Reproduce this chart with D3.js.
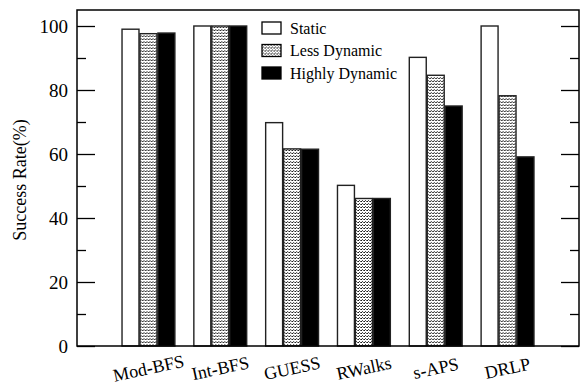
<!DOCTYPE html>
<html>
<head>
<meta charset="utf-8">
<script src="https://cdn.jsdelivr.net/npm/d3@7"></script>
<style>
  body { margin: 0; background: #fff; }
</style>
</head>
<body>
<svg id="chart" width="580" height="385"></svg>
<script>
const categories = ['Mod-BFS', 'Int-BFS', 'GUESS', 'RWalks', 's-APS', 'DRLP'];
const seriesNames = ['Static', 'Less Dynamic', 'Highly Dynamic'];
const staticValues = [99, 100, 69.8, 50.2, 90.2, 100];
const lessDynamicValues = [97.6, 100, 61.6, 46.1, 84.6, 78.2];
const highlyDynamicValues = [97.8, 100, 61.5, 46.1, 75, 59.1];
const yTicks = [0, 20, 40, 60, 80, 100];
const yMinorTicks = [10, 30, 50, 70, 90];

const FONT = '"Liberation Serif"';
const LEFT = 77, RIGHT = 579, TOP = 10, BOTTOM = 346;
const MAJOR_TICK = 18, MINOR_TICK = 9;

const svg = d3.select('#chart');

// dotted fill for the "Less Dynamic" series
const defs = svg.append('defs');
const pat = defs.append('pattern')
  .attr('id', 'dots')
  .attr('patternUnits', 'userSpaceOnUse')
  .attr('width', 3).attr('height', 3);
pat.append('rect').attr('width', 3).attr('height', 3).attr('fill', '#fff');
pat.append('rect').attr('x', 0).attr('y', 0).attr('width', 1).attr('height', 1).attr('fill', '#111');
pat.append('rect').attr('x', 2).attr('y', 0).attr('width', 1).attr('height', 1).attr('fill', '#666');
pat.append('rect').attr('x', 1).attr('y', 2).attr('width', 1).attr('height', 1).attr('fill', '#444');

const fills = ['#fff', 'url(#dots)', '#000'];

const y = d3.scaleLinear().domain([0, 105]).range([BOTTOM, TOP]);

const x = d3.scaleBand()
  .domain(categories)
  .range([LEFT, RIGHT])
  .paddingInner(0.25)
  .paddingOuter(0.62);

const xSub = d3.scaleBand()
  .domain(seriesNames)
  .range([0, x.bandwidth()]);

const rows = categories.map((c, i) => ({
  category: c,
  values: [staticValues[i], lessDynamicValues[i], highlyDynamicValues[i]]
}));

// bars
const groups = svg.append('g').selectAll('g')
  .data(rows)
  .join('g')
  .attr('transform', d => `translate(${x(d.category)},0)`);

groups.selectAll('rect')
  .data(d => d.values.map((v, k) => ({ series: seriesNames[k], value: v, k })))
  .join('rect')
  .attr('x', d => xSub(d.series) + 0.5)
  .attr('y', d => y(d.value))
  .attr('width', xSub.bandwidth() - 1)
  .attr('height', d => BOTTOM - y(d.value))
  .attr('fill', d => fills[d.k])
  .attr('stroke', '#222')
  .attr('stroke-width', 1.4);

// axes: ticks pointing inward on both sides
const leftAxis = d3.axisRight(y).tickValues(yTicks).tickSize(MAJOR_TICK).tickFormat('');
const leftMinor = d3.axisRight(y).tickValues(yMinorTicks).tickSize(MINOR_TICK).tickFormat('');
const rightAxis = d3.axisLeft(y).tickValues(yTicks).tickSize(MAJOR_TICK).tickFormat('');
const rightMinor = d3.axisLeft(y).tickValues(yMinorTicks).tickSize(MINOR_TICK).tickFormat('');

[[leftAxis, LEFT], [leftMinor, LEFT], [rightAxis, RIGHT], [rightMinor, RIGHT]].forEach(([ax, px]) => {
  const g = svg.append('g').attr('transform', `translate(${px},0)`).call(ax);
  g.select('.domain').remove();
  g.selectAll('line').attr('stroke', '#000').attr('stroke-width', 1.3);
});

// tick labels
svg.append('g').selectAll('text')
  .data(yTicks)
  .join('text')
  .attr('x', LEFT - 9)
  .attr('y', d => y(d))
  .attr('dy', '0.35em')
  .attr('text-anchor', 'end')
  .style('font-family', FONT)
  .attr('font-size', 19)
  .text(d => d);

// frame
svg.append('rect')
  .attr('x', LEFT).attr('y', TOP)
  .attr('width', RIGHT - LEFT).attr('height', BOTTOM - TOP)
  .attr('fill', 'none')
  .attr('stroke', '#000')
  .attr('stroke-width', 1.5);

// category labels, slightly tilted
svg.append('g').selectAll('text')
  .data(categories)
  .join('text')
  .attr('transform', d => `translate(${x(d) + x.bandwidth() / 2},368) rotate(-12)`)
  .attr('dy', '0.35em')
  .attr('text-anchor', 'middle')
  .style('font-family', FONT)
  .attr('font-size', 18)
  .text(d => d);

// y title
svg.append('text')
  .attr('transform', `translate(26,${(TOP + BOTTOM) / 2 + 2}) rotate(-90)`)
  .attr('text-anchor', 'middle')
  .style('font-family', FONT)
  .attr('font-size', 18)
  .text('Success Rate(%)');

// legend
const legend = svg.append('g').attr('transform', 'translate(262,22)');
const items = legend.selectAll('g')
  .data(seriesNames)
  .join('g')
  .attr('transform', (d, i) => `translate(0,${i * 22.5})`);
items.append('rect')
  .attr('width', 19).attr('height', 12)
  .attr('fill', (d, i) => fills[i])
  .attr('stroke', '#000')
  .attr('stroke-width', 1.3);
items.append('text')
  .attr('x', 28).attr('y', 6)
  .attr('dy', '0.35em')
  .style('font-family', FONT)
  .attr('font-size', 16)
  .text(d => d);
</script>
</body>
</html>
